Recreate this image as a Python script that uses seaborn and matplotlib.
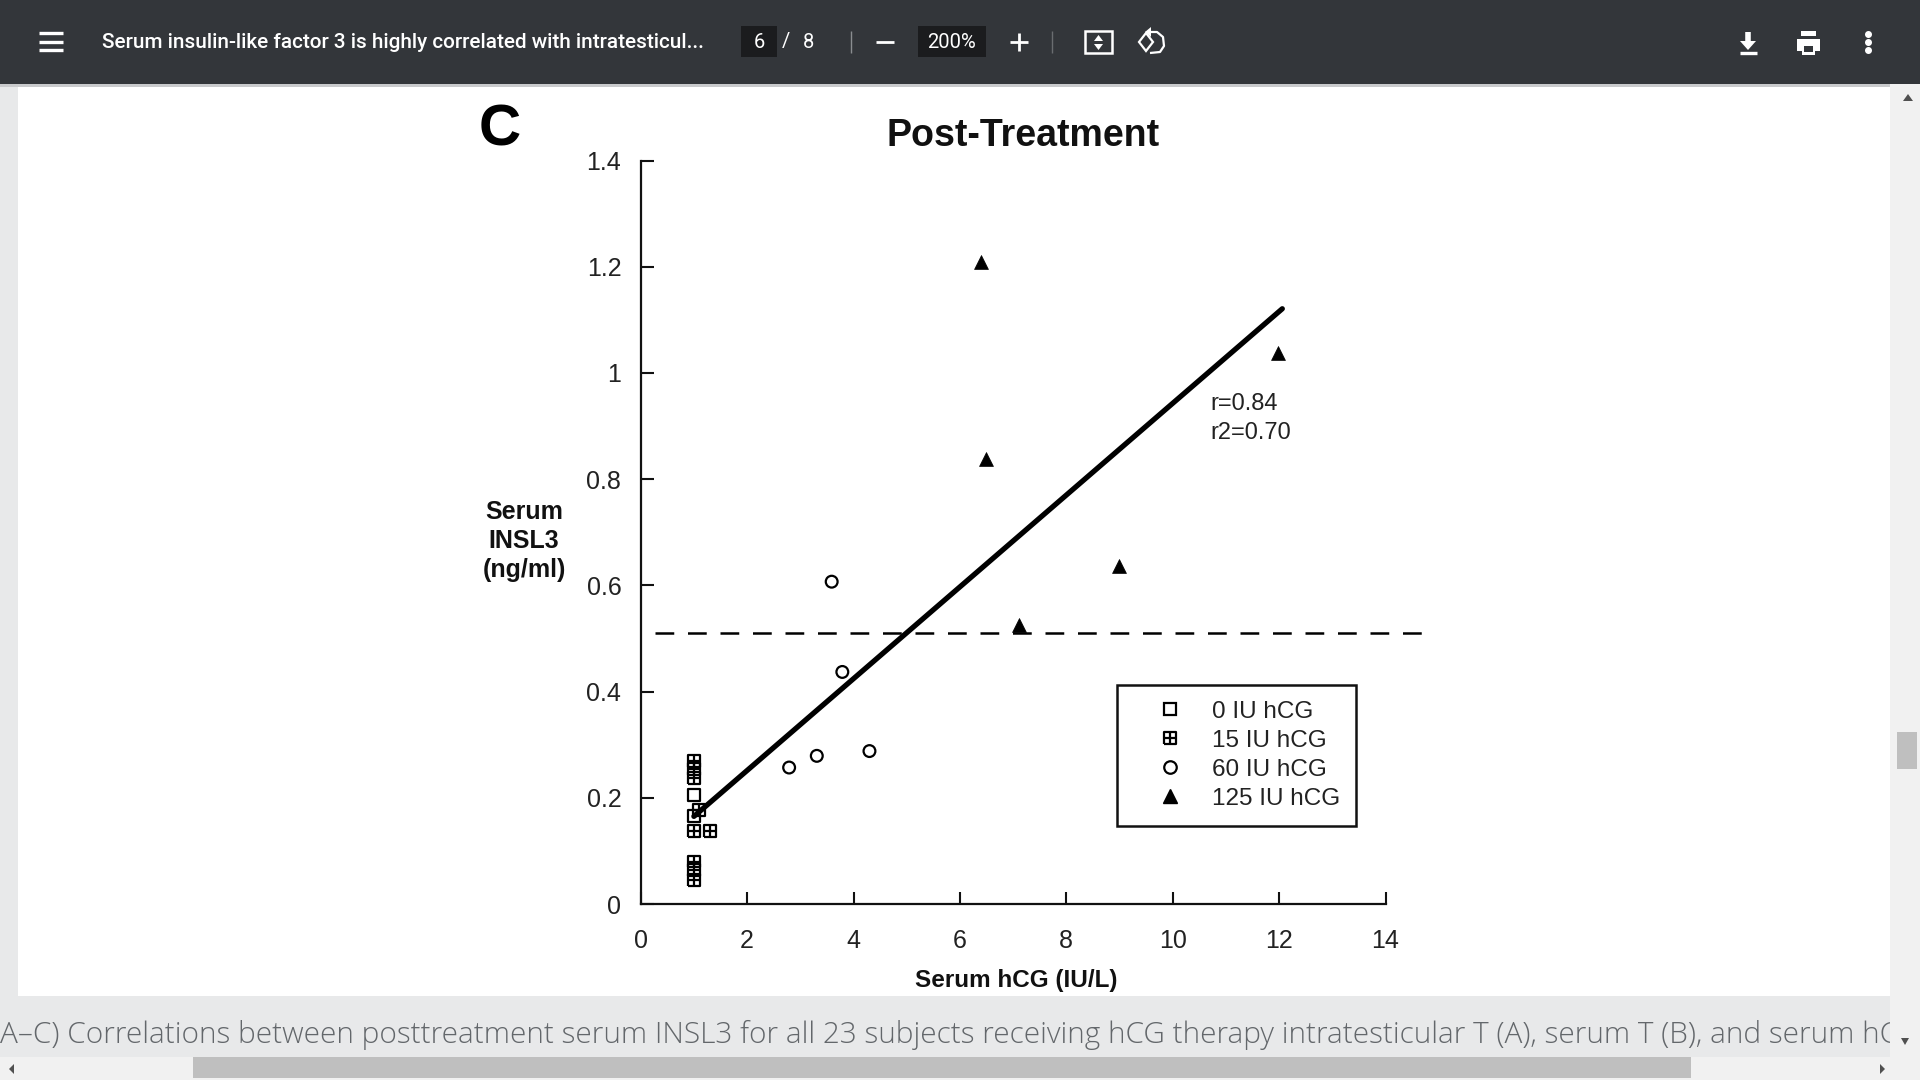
import matplotlib
matplotlib.use("Agg")
import matplotlib.pyplot as plt
import seaborn as sns
from matplotlib.lines import Line2D
from matplotlib.patches import Rectangle, Polygon
from matplotlib.path import Path

# values
dose_0_x = [1.0, 1.0]
dose_0_y = [0.206, 0.166]
dose_15_x = [1.0, 1.0, 1.0, 1.1, 1.0, 1.3, 1.0, 1.0, 1.0]
dose_15_y = [0.270, 0.254, 0.238, 0.177, 0.137, 0.137, 0.080, 0.064, 0.045]
dose_60_x = [2.79, 3.31, 4.30, 3.59, 3.79]
dose_60_y = [0.257, 0.279, 0.288, 0.607, 0.437]
dose_125_x = [6.39, 11.98, 6.49, 8.99, 7.11]
dose_125_y = [1.209, 1.038, 0.838, 0.637, 0.526]
fit_x = [1.0, 12.06]
fit_y = [0.165, 1.121]
cutoff_x = [0.27, 14.7]
cutoff_y = [0.51, 0.51]
x_ticks = [0, 2, 4, 6, 8, 10, 12, 14]
y_ticks = [0, 0.2, 0.4, 0.6, 0.8, 1, 1.2, 1.4]
y_tick_labels = ["0", "0.2", "0.4", "0.6", "0.8", "1", "1.2", "1.4"]
legend_labels = ["0 IU hCG", "15 IU hCG", "60 IU hCG", "125 IU hCG"]

W, H = 1920, 1080
TOOLBAR = "#33363a"
PAGE_BG = "#e8e9ea"
SCROLL_BG = "#f1f1f1"
THUMB = "#bfbfbf"

sns.set_theme(style="ticks")
plt.rcParams["font.family"] = ["Liberation Sans", "DejaVu Sans"]

fig = plt.figure(figsize=(W / 100, H / 100), dpi=100, facecolor=PAGE_BG)

# browser window around the chart, in pixel coordinates
bg = fig.add_axes([0, 0, 1, 1], zorder=0)
bg.set_xlim(0, W)
bg.set_ylim(H, 0)
bg.axis("off")


def box(x0, y0, x1, y1, color, z=1):
    bg.add_patch(Rectangle((x0, y0), x1 - x0, y1 - y0, color=color, lw=0, zorder=z))


def stroke(xs, ys, color="white", lw=2.0, z=6):
    bg.plot(xs, ys, color=color, lw=lw, solid_capstyle="butt", zorder=z)


def tri(points, color, z=6):
    bg.add_patch(Polygon(points, closed=True, color=color, lw=0, zorder=z))


box(18, 84, 1890, 996, "white")
bg.text(0, 1035, "A–C) Correlations between posttreatment serum INSL3 for all 23 subjects receiving hCG therapy intratesticular T (A), serum T (B), and serum hC",
        family="Open Sans", fontsize=21.4, color="#63676b", va="center", ha="left", zorder=2, fontweight="light")

# scrollbars
box(1890, 84, W, H, SCROLL_BG, z=4)
box(0, 1057, W, H, SCROLL_BG, z=4)
box(193, 1057, 1691, 1078, THUMB, z=5)
box(1897, 732, 1917, 769, THUMB, z=5)
tri([(1903, 101), (1913, 101), (1908, 94)], "#505050")
tri([(1901, 1038), (1909, 1038), (1905, 1045)], "#505050")
tri([(14, 1064), (14, 1074), (9, 1069)], "#505050")
tri([(1880, 1064), (1880, 1074), (1885, 1069)], "#505050")

# toolbar
box(0, 0, W, 84, TOOLBAR, z=4)
box(0, 84, W, 87, "#c9cacc", z=3)
for y in [33, 42, 50]:
    stroke([39, 63], [y, y], lw=2.4)
bg.text(102, 43, "Serum insulin-like factor 3 is highly correlated with intratesticul...",
        family="Roboto", fontweight="medium", fontsize=14.95, color="white", va="center", zorder=6)
box(741, 26, 777, 57, "#1b1c1e", z=5)
box(918, 26, 986, 57, "#1b1c1e", z=5)
bg.text(759, 42, "6", family="Roboto", fontsize=14.5, color="white", ha="center", va="center", zorder=6)
bg.text(786, 42, "/", family="Roboto", fontsize=14.5, color="white", ha="center", va="center", zorder=6)
bg.text(808, 42, "8", family="Roboto", fontsize=14.5, color="white", ha="center", va="center", zorder=6)
bg.text(952, 42, "200%", family="Roboto", fontsize=14.5, color="white", ha="center", va="center", zorder=6)
stroke([851, 851], [31, 53], color="#8a8d90", lw=1)
stroke([1052, 1052], [31, 53], color="#6a6d70", lw=1)
stroke([876, 894], [42, 42])
stroke([1010, 1028], [42, 42])
stroke([1019, 1019], [33, 51])

# fit to page icon
bg.add_patch(Rectangle((1085, 31), 27, 22, fill=False, edgecolor="white", lw=1.8, zorder=6))
tri([(1094, 41), (1103, 41), (1098.5, 35)], "white")
tri([(1094, 44), (1103, 44), (1098.5, 50)], "white")

# rotate icon
bg.add_patch(Polygon([(1146, 33), (1153, 42), (1146, 51), (1139, 42)], fill=False, edgecolor="white", lw=1.6, zorder=6))
stroke([1150, 1157, 1163, 1164, 1160, 1150], [32, 32, 37, 46, 52, 53], lw=1.6)
tri([(1151, 27), (1151, 37), (1145, 32)], "white")

# download, print, more
stroke([1748, 1748], [32, 44], lw=4)
tri([(1740, 41), (1756, 41), (1748, 50)], "white")
stroke([1740, 1757], [53, 53], lw=2.4)
box(1797, 39, 1820, 51, "white", z=6)
box(1801, 31, 1816, 36, "white", z=6)
box(1802, 46, 1815, 55, "white", z=6)
box(1804, 46, 1813, 52, TOOLBAR, z=7)
for y in [34, 42, 50]:
    bg.plot([1868], [y], "o", color="white", ms=4, zorder=6)

# the chart itself
AX_L, AX_R, AX_T, AX_B = 640.7, 1385.5, 160.6, 904
ax = fig.add_axes([AX_L / W, 1 - AX_B / H, (AX_R - AX_L) / W, (AX_B - AX_T) / H], zorder=1)
ax.patch.set_alpha(0)

# 15 IU marker: square with a cross through it
hatched = Path(
    [(-1, -1), (1, -1), (1, 1), (-1, 1), (-1, -1), (-1, 0), (1, 0), (0, -1), (0, 1)],
    [Path.MOVETO, Path.LINETO, Path.LINETO, Path.LINETO, Path.LINETO,
     Path.MOVETO, Path.LINETO, Path.MOVETO, Path.LINETO],
)
open_kws = dict(facecolor="none", edgecolor="black", linewidth=1.6, clip_on=False, legend=False)

sns.lineplot(x=fit_x, y=fit_y, color="black", linewidth=3.8, ax=ax, zorder=3, errorbar=None)
sns.lineplot(x=cutoff_x, y=cutoff_y, color="black", linewidth=1.8, ax=ax, zorder=2, errorbar=None,
             linestyle=(0, (7.5, 5.5))).lines[-1].set_clip_on(False)
sns.scatterplot(x=dose_0_x, y=dose_0_y, marker="s", s=72, ax=ax, zorder=4, **open_kws)
sns.scatterplot(x=dose_15_x, y=dose_15_y, marker=hatched, s=72, ax=ax, zorder=4, **open_kws)
sns.scatterplot(x=dose_60_x, y=dose_60_y, marker="o", s=72, ax=ax, zorder=4, **open_kws)
sns.scatterplot(x=dose_125_x, y=dose_125_y, marker="^", s=100, color="black", edgecolor="black",
                linewidth=0.5, ax=ax, zorder=4, legend=False)

ax.set_xlim(0, 14)
ax.set_ylim(0, 1.4)
ax.set_xticks(x_ticks)
ax.set_yticks(y_ticks)
ax.set_yticklabels(y_tick_labels)
ax.tick_params(direction="in", length=9, width=1.5, color="#111111", labelsize=18, labelcolor="#222222", pad=14)
ax.tick_params(axis="x", pad=18)
sns.despine(ax=ax)
for side in ["left", "bottom"]:
    ax.spines[side].set_linewidth(1.6)
    ax.spines[side].set_color("#111111")

ax.text(10.7, 0.914, "r=0.84\nr2=0.70", fontsize=17, color="#222222", va="center", linespacing=1.38)

marker_kw = dict(linestyle="none", markerfacecolor="none", markeredgecolor="black", markeredgewidth=1.6)
handles = [
    Line2D([], [], marker="s", markersize=9, **marker_kw),
    Line2D([], [], marker=hatched, markersize=9, **marker_kw),
    Line2D([], [], marker="o", markersize=9, **marker_kw),
    Line2D([], [], marker="^", markersize=10.5, linestyle="none", color="black"),
]
leg = ax.legend(
    handles, legend_labels, loc="upper left",
    bbox_to_anchor=((1117 - AX_L) / (AX_R - AX_L), (AX_B - 685) / (AX_B - AX_T)),
    fontsize=17.5, frameon=True, fancybox=False, edgecolor="#111111", framealpha=1,
    borderaxespad=0, borderpad=0.65, labelspacing=0.29, handlelength=3.05, handletextpad=0.2,
    labelcolor="#222222",
)
leg.get_frame().set_linewidth(1.8)

# text around the axes
bg.text(500, 131, "C", fontsize=42, fontweight="bold", color="black", ha="center", va="center", zorder=3)
bg.text(1023, 136, "Post-Treatment", fontsize=27, fontweight="bold", color="#111111", ha="center", va="center", zorder=3)
bg.text(524, 541, "Serum\nINSL3\n(ng/ml)", fontsize=18, fontweight="bold", color="#111111", ha="center", va="center",
        linespacing=1.25, zorder=3)
bg.text(1016, 980, "Serum hCG (IU/L)", fontsize=17.5, fontweight="bold", color="#111111", ha="center", va="center", zorder=3)

fig.savefig("out.png", dpi=100, facecolor=fig.get_facecolor())
